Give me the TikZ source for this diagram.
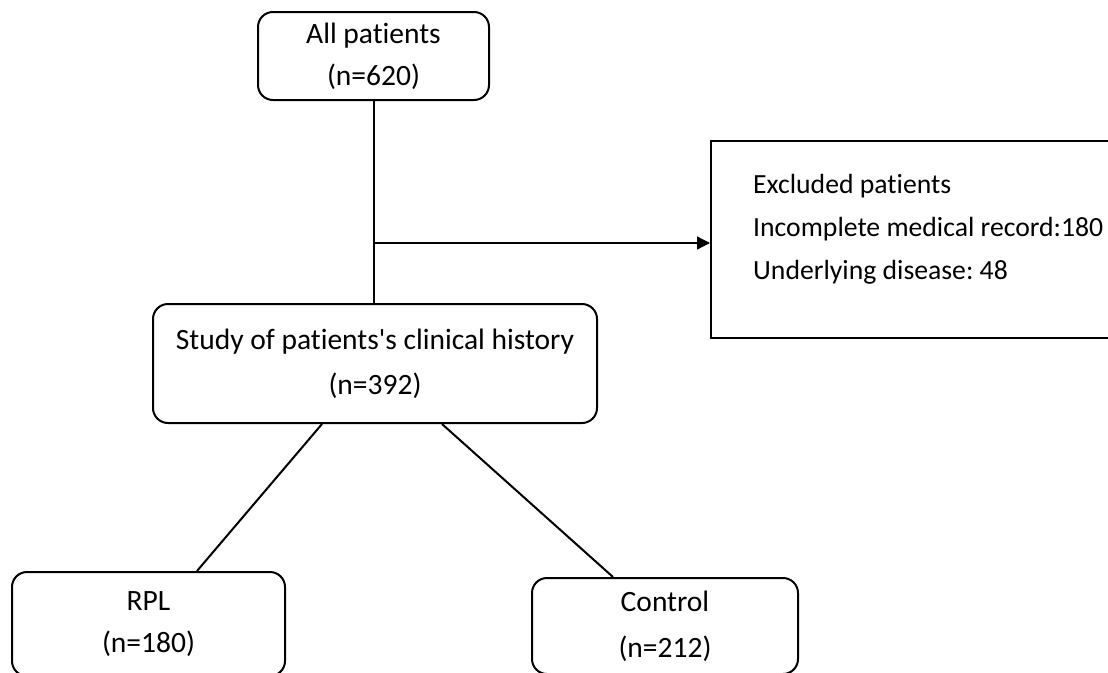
\documentclass[tikz,border=0pt]{standalone}
\usepackage{fontspec}
\setmainfont{Carlito}[Ligatures={TeXOff,NoCommon}]
\frenchspacing
\usetikzlibrary{arrows.meta,calc}
\begin{document}
\begin{tikzpicture}[x=1pt,y=1pt,
  box/.style={draw,line width=2pt,rounded corners=15pt,align=center,inner sep=0pt},
  conn/.style={line width=2pt},
  arr/.style={line width=1.3pt,-{Triangle[length=13pt,width=13pt]}}]
\useasboundingbox (0,0) rectangle (1108,-672);
\node[box,minimum width=231,minimum height=88,font=\fontsize{29.5}{42}\selectfont] (all) at (373.5,-56) {All patients\\(n=620)};
\node[box,minimum width=444,minimum height=119,font=\fontsize{29.5}{45}\selectfont] (study) at (375,-363.5) {Study of patients's clinical history\\(n=392)};
\node[box,minimum width=273,minimum height=104,font=\fontsize{29.5}{42}\selectfont] (rpl) at (148.5,-624) {RPL\\(n=180)};
\node[box,minimum width=266,minimum height=96,font=\fontsize{29.5}{46}\selectfont] (ctrl) at (665,-626) {Control\\(n=212)};
\node[draw,line width=2pt,minimum width=420,minimum height=197,anchor=north west,inner sep=0pt] (excl) at (710,-140) {};
\node[anchor=west,align=left,inner sep=0pt,font=\fontsize{27.7}{43}\selectfont] (excltxt) at (753,-229) {Excluded patients\\Incomplete medical record:180\\Underlying disease: 48};
\draw[conn] (all.south) -- (all.south |- study.north);
\coordinate (branch) at (374,-243);
\draw[arr] (branch) -- (branch -| excl.west);
\draw[conn] ([xshift=-53pt]study.south) -- ([xshift=48.5pt]rpl.north);
\draw[conn] ([xshift=67pt]study.south) -- ([xshift=-52pt]ctrl.north);
\end{tikzpicture}
\end{document}
